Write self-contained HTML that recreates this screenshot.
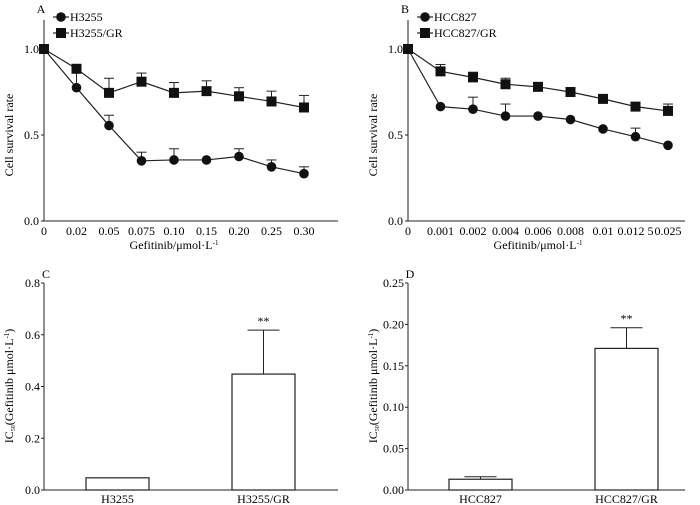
<!DOCTYPE html>
<html><head><meta charset="utf-8"><style>
html,body{margin:0;padding:0;background:#fff;}
svg{display:block;font-family:"Liberation Serif",serif;}
</style></head><body>
<svg id="c" width="700" height="505" viewBox="0 0 700 505"></svg>
<script>
const lineCats=[0,1,2,3,4,5,6,7,8];
const aTicks=["0","0.02","0.05","0.075","0.10","0.15","0.20","0.25","0.30"];
const aH=[1,0.775,0.555,0.35,0.355,0.355,0.375,0.315,0.275];
const aHErr=[0,0.09,0.06,0.05,0.065,0,0.045,0.04,0.04];
const aG=[1,0.885,0.745,0.81,0.745,0.755,0.725,0.695,0.66];
const aGErr=[0,0,0.085,0.05,0.06,0.06,0.05,0.06,0.07];
const bTicks=["0","0.001","0.002","0.004","0.006","0.008","0.01","0.012 5","0.025"];
const bH=[1,0.665,0.65,0.61,0.61,0.59,0.535,0.49,0.44];
const bHErr=[0,0,0.07,0.07,0,0,0,0.05,0];
const bG=[1,0.87,0.835,0.795,0.78,0.75,0.71,0.665,0.64];
const bGErr=[0,0.04,0.03,0.035,0,0,0,0,0.04];
const yTicksLine=[0,0.5,1.0];
const cCats=["H3255","H3255/GR"];
const cVals=[0.047,0.448];
const cErr=[0,0.618];
const cTicks=[0,0.2,0.4,0.6,0.8];
const dCats=["HCC827","HCC827/GR"];
const dVals=[0.013,0.171];
const dErr=[0.016,0.196];
const dTicks=[0,0.05,0.10,0.15,0.20,0.25];

const S=document.getElementById('c');
const NS="http://www.w3.org/2000/svg";
function el(t,a,txt){const e=document.createElementNS(NS,t);for(const k in a)e.setAttribute(k,a[k]);if(txt!==undefined)e.textContent=txt;S.appendChild(e);return e;}
const C="#222";
const FS=12;

function linePanel(ox,axEnd,letter,ticks,s1,e1,s2,e2,n1,n2){
  const y0=221,y1=49;const yS=v=>y0-(y0-y1)*v;const xS=i=>ox+i*32.5;
  let e=el('line',{x1:ox,y1:20,x2:ox,y2:y0,stroke:C,'stroke-width':1});
  
  e=el('line',{x1:ox,y1:y0,x2:axEnd,y2:y0,stroke:C,'stroke-width':1});
  
  e=el('text',{x:ox-3,y:13,'font-size':FS,'text-anchor':'middle'},letter);
  
  yTicksLine.forEach(v=>{e=el('line',{x1:ox-3,y1:yS(v),x2:ox,y2:yS(v),stroke:C});
    e=el('text',{x:ox-5,y:yS(v)+4,'font-size':FS,'text-anchor':'end'},v.toFixed(1));
    });
  ticks.forEach((t,i)=>{e=el('text',{x:xS(i),y:235,'font-size':FS,'text-anchor':'middle'},t);
    });
  e=el('text',{x:ox+130,y:249,'font-size':FS,'text-anchor':'middle'});
  e.innerHTML='Gefitinib/μmol·L<tspan dy="-4" font-size="7">-1</tspan>';
  
  e=el('text',{x:0,y:0,'font-size':FS,'text-anchor':'middle',transform:`translate(${ox-31},135) rotate(-90)`},'Cell survival rate');
  
  [[s1,e1,'circle'],[s2,e2,'square']].forEach(([s,er,m])=>{
    e=el('polyline',{points:lineCats.map(i=>xS(i)+','+yS(s[i])).join(' '),fill:'none',stroke:C,'stroke-width':1.2});
    
    lineCats.forEach(i=>{
      if(er[i]>0){const yt=yS(s[i]+er[i]);el('line',{x1:xS(i),y1:yS(s[i]),x2:xS(i),y2:yt,stroke:C});el('line',{x1:xS(i)-5,y1:yt,x2:xS(i)+5,y2:yt,stroke:C});}
      if(m==='circle'){e=el('circle',{cx:xS(i),cy:yS(s[i]),r:4.8,fill:'#111'});}
      else{e=el('rect',{x:xS(i)-5,y:yS(s[i])-5,width:10,height:10,fill:'#111'});}
      
    });
  });
  [[n1,'circle',17],[n2,'square',33]].forEach(([n,m,y])=>{
    el('line',{x1:ox+9,y1:y,x2:ox+25,y2:y,stroke:C,'stroke-width':1.2});
    if(m==='circle')el('circle',{cx:ox+17,cy:y,r:4.8,fill:'#111'});else el('rect',{x:ox+12,y:y-5,width:10,height:10,fill:'#111'});
    e=el('text',{x:ox+26,y:y+4,'font-size':FS},n);
    
  });
}
linePanel(44,338,'A',aTicks,aH,aHErr,aG,aGErr,'H3255','H3255/GR');
linePanel(408,685,'B',bTicks,bH,bHErr,bG,bGErr,'HCC827','HCC827/GR');

function barPanel(ox,axEnd,letter,cats,vals,err,ticks,max,dec,barX){
  const y0=490,y1=283;const yS=v=>y0-(y0-y1)*v/max;
  let e=el('line',{x1:ox,y1:y1,x2:ox,y2:y0,stroke:C});
  e=el('line',{x1:ox,y1:y0,x2:axEnd,y2:y0,stroke:C});
  e=el('text',{x:ox+2,y:278,'font-size':FS,'text-anchor':'middle'},letter);
  ticks.forEach(v=>{el('line',{x1:ox-3,y1:yS(v),x2:ox,y2:yS(v),stroke:C});
    e=el('text',{x:ox-4,y:yS(v)+4,'font-size':FS,'text-anchor':'end'},v.toFixed(dec));
    });
  e=el('text',{x:0,y:0,'font-size':FS,'text-anchor':'middle',transform:`translate(${ox-31},386) rotate(-90)`});
  e.innerHTML='IC<tspan font-size="6" dy="2">50</tspan><tspan dy="-2">(Gefitinib μmol·L</tspan><tspan font-size="7" dy="-4">-1</tspan><tspan dy="4">)</tspan>';
  
  cats.forEach((c,i)=>{const x=barX[i],w=63,cx=x+w/2;
    e=el('rect',{x:x,y:yS(vals[i]),width:w,height:y0-yS(vals[i]),fill:'#fff',stroke:C,'stroke-width':1.2});
    
    if(err[i]>vals[i]){const yt=yS(err[i]);el('line',{x1:cx,y1:yS(vals[i]),x2:cx,y2:yt,stroke:C});el('line',{x1:cx-16,y1:yt,x2:cx+16,y2:yt,stroke:C});}
    if(i===1){e=el('text',{x:cx,y:yS(err[i])-5,'font-size':FS,'text-anchor':'middle'},'**');}
    e=el('text',{x:cx,y:503,'font-size':FS,'text-anchor':'middle'},c);
  });
}
barPanel(44,338,'C',cCats,cVals,cErr,cTicks,0.8,1,[86,232]);
barPanel(408,685,'D',dCats,dVals,dErr,dTicks,0.25,2,[449,595]);
</script>
</body></html>
